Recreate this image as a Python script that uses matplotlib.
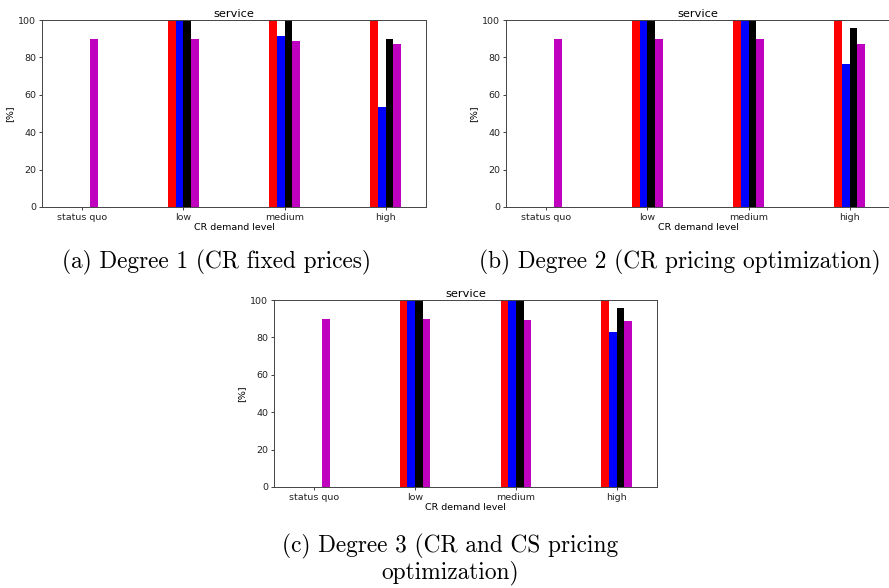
import numpy as np
import matplotlib
matplotlib.use('Agg')
import matplotlib.pyplot as plt

categories = ['status quo', 'low', 'medium', 'high']
colors = ['r', 'b', 'k', 'm']

# service level [%] per panel, four series (red, blue, black, magenta)
deg1_red = [0, 100, 100, 100]
deg1_blue = [0, 100, 91.4, 53.6]
deg1_black = [0, 100, 100, 89.8]
deg1_magenta = [90, 90, 88.6, 87.3]

deg2_red = [0, 100, 100, 100]
deg2_blue = [0, 100, 100, 76.4]
deg2_black = [0, 100, 100, 95.9]
deg2_magenta = [90, 90, 89.6, 87.0]

deg3_red = [0, 100, 100, 100]
deg3_blue = [0, 100, 100, 82.8]
deg3_black = [0, 100, 100, 95.7]
deg3_magenta = [90, 90, 89.5, 88.8]

captions = ['(a) Degree 1 (CR fixed prices)',
            '(b) Degree 2 (CR pricing optimization)',
            '(c) Degree 3 (CR and CS pricing\noptimization)']

W, H = 889, 588
fig = plt.figure(figsize=(W / 100, H / 100), dpi=100)

fs = 6.8
plt.rcParams['font.size'] = fs


def panel(left, top, right, bottom, series):
    ax = fig.add_axes([left / W, 1 - bottom / H, (right - left) / W, (bottom - top) / H])
    x = np.arange(len(categories))
    w = 0.076
    for i, (vals, c) in enumerate(zip(series, colors)):
        ax.bar(x + (i - 2) * w, vals, w, color=c, align='edge')
    ax.set_xlim(-0.4, 3.4)
    ax.set_ylim(0, 100)
    ax.set_xticks(x)
    ax.set_xticklabels(categories, fontsize=fs)
    ax.set_yticks(range(0, 101, 20))
    ax.tick_params(labelsize=fs, length=2.3, width=0.6, pad=2, colors='#222222')
    ax.set_title('service', fontsize=fs * 1.2, pad=2)
    ax.set_xlabel('CR demand level', fontsize=fs, labelpad=1)
    ax.set_ylabel('[%]', fontsize=fs, labelpad=3)
    for s in ax.spines.values():
        s.set_linewidth(0.7)
        s.set_color('#444444')
    return ax


panel(42, 20, 426, 207, [deg1_red, deg1_blue, deg1_black, deg1_magenta])
panel(506, 20, 890, 207, [deg2_red, deg2_blue, deg2_black, deg2_magenta])
panel(274, 300, 657, 487, [deg3_red, deg3_blue, deg3_black, deg3_magenta])

cap_font = dict(family='cmr10', fontsize=16.8, ha='center', va='center', linespacing=1.08)
fig.text(217 / W, 1 - 262 / H, captions[0], **cap_font)
fig.text(680 / W, 1 - 262 / H, captions[1], **cap_font)
fig.text(450 / W, 1 - 559 / H, captions[2], **cap_font)

fig.savefig('out.png', dpi=100)
